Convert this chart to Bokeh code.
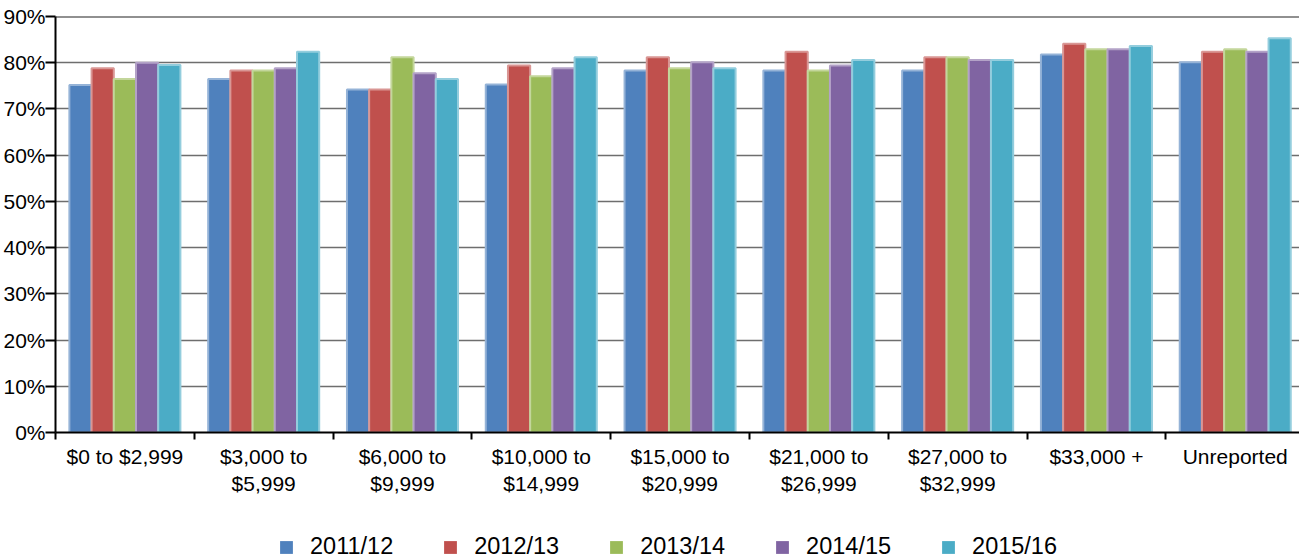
from bokeh.plotting import figure
from bokeh.layouts import column
from bokeh.models import (Range1d, FixedTicker, PrintfTickFormatter, Legend,
                          LegendItem, Span, ColumnDataSource)
from bokeh.embed import file_html
from bokeh.resources import INLINE

categories = ["$0 to $2,999", "$3,000 to\n$5,999", "$6,000 to\n$9,999",
              "$10,000 to\n$14,999", "$15,000 to\n$20,999", "$21,000 to\n$26,999",
              "$27,000 to\n$32,999", "$33,000 +", "Unreported"]
years = ["2011/12", "2012/13", "2013/14", "2014/15", "2015/16"]

v_2011_12 = [75.2, 76.5, 74.2, 75.3, 78.3, 78.3, 78.3, 81.8, 80.1]
v_2012_13 = [78.8, 78.3, 74.2, 79.4, 81.2, 82.4, 81.2, 84.1, 82.4]
v_2013_14 = [76.5, 78.3, 81.2, 77.1, 78.8, 78.3, 81.2, 82.9, 82.9]
v_2014_15 = [80.0, 78.8, 77.7, 78.8, 80.1, 79.4, 80.6, 82.9, 82.4]
v_2015_16 = [79.5, 82.4, 76.5, 81.2, 78.8, 80.6, 80.6, 83.6, 85.3]
series = [v_2011_12, v_2012_13, v_2013_14, v_2014_15, v_2015_16]

fills = ["#4F81BD", "#C0504D", "#9BBB59", "#8064A2", "#4BACC6"]
borders = ["#95B3D7", "#D99694", "#C3D69B", "#B3A2C7", "#93CDDD"]

FONT = "Liberation Sans"
n = len(categories)
bar_w = 0.16
offsets = [(-2 + j) * bar_w for j in range(len(years))]

p = figure(frame_width=1244, frame_height=416, x_range=Range1d(0, 8.963), y_range=Range1d(0, 90),
           output_backend="svg", toolbar_location=None,
           min_border_left=55, min_border_right=0, min_border_top=16, min_border_bottom=88)
p.outline_line_color = None
p.background_fill_color = "white"

# legend-only strip below the chart (same data, range far above the bars so only the legend shows)
lg = figure(width=1299, height=40, x_range=Range1d(0, 8.963), y_range=Range1d(1000, 1001),
            output_backend="svg", toolbar_location=None, min_border=0)
lg.axis.visible = False
lg.grid.visible = False
lg.outline_line_color = None

items = []
for j, (yr, vals) in enumerate(zip(years, series)):
    src = ColumnDataSource(dict(x=[i + 0.5 + offsets[j] for i in range(n)], top=vals))
    p.vbar(x="x", top="top", bottom=0, width=bar_w, source=src,
           fill_color=fills[j], line_color=borders[j], line_width=2)
    r = lg.vbar(x="x", top="top", bottom="top", width=bar_w, source=src,
                fill_color=fills[j], line_color=None)
    items.append(LegendItem(label=yr, renderers=[r]))

# x axis
xa = p.xaxis[0]
xa.ticker = FixedTicker(ticks=[i + 0.5 for i in range(n)], minor_ticks=list(range(n + 1)))
xa.major_label_overrides = {i + 0.5: c for i, c in enumerate(categories)}
xa.major_tick_out = 0
xa.major_tick_in = 0
xa.minor_tick_out = 7
xa.minor_tick_in = 0
xa.minor_tick_line_width = 2
xa.minor_tick_line_color = "black"
xa.axis_line_width = 2
xa.axis_line_color = "black"
xa.major_label_text_font = FONT
xa.major_label_text_font_size = "21px"
xa.major_label_text_color = "black"
xa.major_label_standoff = 5

# y axis
ya = p.yaxis[0]
ya.ticker = FixedTicker(ticks=list(range(0, 100, 10)))
ya.formatter = PrintfTickFormatter(format="%d%%")
ya.major_tick_out = 10
ya.major_tick_in = 0
ya.major_tick_line_width = 2
ya.major_tick_line_color = "black"
ya.minor_tick_line_color = None
ya.axis_line_width = 2
ya.axis_line_color = "black"
ya.major_label_text_font = FONT
ya.major_label_text_font_size = "21px"
ya.major_label_text_color = "black"
ya.major_label_standoff = 0

p.xgrid.visible = False
p.ygrid.ticker = FixedTicker(ticks=list(range(0, 100, 10)))
p.ygrid.grid_line_color = "#6e6e6e"
p.ygrid.grid_line_width = 1.5
p.add_layout(Span(location=90, dimension="width", line_color="#222222", line_width=2))

legend = Legend(items=items, orientation="horizontal", location=(223, 0),
                glyph_width=16, glyph_height=16, label_standoff=16, spacing=49,
                label_text_font=FONT, label_text_font_size="23.5px", label_text_color="black",
                border_line_color=None, background_fill_alpha=0, margin=0, padding=0)
lg.add_layout(legend, "center")

layout = column(p, lg, spacing=0)
open("out.html", "w").write(file_html(layout, INLINE))
